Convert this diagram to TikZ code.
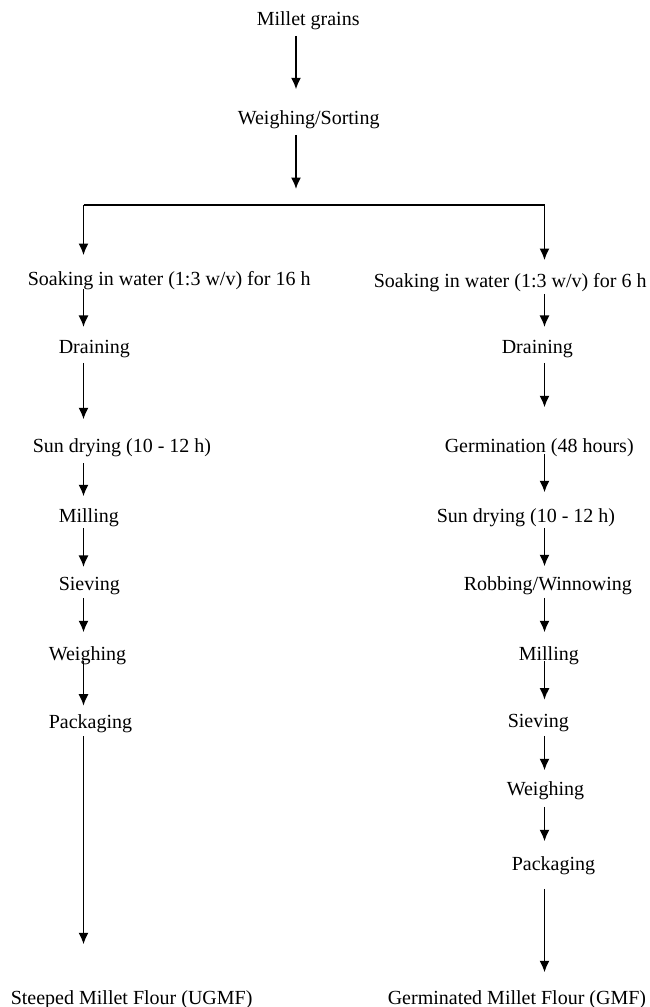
\documentclass[tikz,border=0pt]{standalone}
\usepackage{fontspec}
\setmainfont{Liberation Serif}
\usetikzlibrary{arrows.meta}

\begin{document}
\begin{tikzpicture}[x=1pt, y=-1pt, line width=1.6pt,
	>={Latex[length=11.5pt,width=10pt]},
	stage/.style={anchor=base west, inner sep=0pt, font=\fontsize{20}{24}\selectfont},
	flow/.style={->}]

\useasboundingbox (0,0) rectangle (650,1007);

\coordinate (colM) at (296,0);
\coordinate (colL) at (83.5,0);
\coordinate (colR) at (544.5,0);

% common part
\node[stage] (millet) at (256,25) {Millet grains};
\node[stage] (sort) at (237,124) {Weighing/Sorting};

\coordinate (split) at (296,205);
\coordinate (brL) at (83.5,205);
\coordinate (brR) at (544.5,205);

% left branch : steeped
\node[stage] (soakL) at (27,285) {Soaking in water (1:3 w/v) for 16 h};
\node[stage] (drainL) at (58,353) {Draining};
\node[stage] (sunL) at (32,452) {Sun drying (10 - 12 h)};
\node[stage] (millL) at (58,522) {Milling};
\node[stage] (sieveL) at (58,590) {Sieving};
\node[stage] (weighL) at (48,660) {Weighing};
\node[stage] (packL) at (48,728) {Packaging};
\node[stage] (ugmf) at (10,1004) {Steeped Millet Flour (UGMF)};

% right branch : germinated
\node[stage] (soakR) at (373,287) {Soaking in water (1:3 w/v) for 6 h};
\node[stage] (drainR) at (501,353) {Draining};
\node[stage] (germ) at (444,452) {Germination (48 hours)};
\node[stage] (sunR) at (436,522) {Sun drying (10 - 12 h)};
\node[stage] (robR) at (463,590) {Robbing/Winnowing};
\node[stage] (millR) at (518,660) {Milling};
\node[stage] (sieveR) at (507,727) {Sieving};
\node[stage] (weighR) at (506,795) {Weighing};
\node[stage] (packR) at (511,870) {Packaging};
\node[stage] (gmf) at (387,1004) {Germinated Millet Flour (GMF)};

% arrows, middle
\draw[flow, shorten <=5.7pt, shorten >=20pt] (millet.south -| colM) -- (sort.north -| colM);
\draw[flow, shorten <=5.7pt, shorten >=16pt] (sort.south -| colM) -- (split);
\draw (brL) -- (brR);
\draw[flow, shorten >=15pt] (brL) -- (soakL.north -| colL);
\draw[flow, shorten >=12pt] (brR) -- (soakR.north -| colR);

% arrows, left
\draw[flow, shorten <=-1pt, shorten >=12pt] (soakL.south -| colL) -- (drainL.north -| colL);
\draw[flow, shorten <=4.7pt, shorten >=18pt] (drainL.south -| colL) -- (sunL.north -| colL);
\draw[flow, shorten <=6pt, shorten >=11pt] (sunL.south -| colL) -- (millL.north -| colL);
\draw[flow, shorten <=0.7pt, shorten >=9pt] (millL.south -| colL) -- (sieveL.north -| colL);
\draw[flow, shorten <=2.7pt, shorten >=13pt] (sieveL.south -| colL) -- (weighL.north -| colL);
\draw[flow, shorten <=-4.3pt, shorten >=7.6pt] (weighL.south -| colL) -- (packL.north -| colL);
\draw[flow, shorten <=3pt, shorten >=45pt] (packL.south -| colL) -- (ugmf.north -| colL);

% arrows, right
\draw[flow, shorten <=1.7pt, shorten >=12pt] (soakR.south -| colR) -- (drainR.north -| colR);
\draw[flow, shorten <=4.7pt, shorten >=30pt] (drainR.south -| colR) -- (germ.north -| colR);
\draw[flow, shorten <=-3.3pt, shorten >=15pt] (germ.south -| colR) -- (sunR.north -| colR);
\draw[flow, shorten <=0.7pt, shorten >=9pt] (sunR.south -| colR) -- (robR.north -| colR);
\draw[flow, shorten <=2.7pt, shorten >=13pt] (robR.south -| colR) -- (millR.north -| colR);
\draw[flow, shorten <=-4.3pt, shorten >=13.3pt] (millR.south -| colR) -- (sieveR.north -| colR);
\draw[flow, shorten <=3.7pt, shorten >=10pt] (sieveR.south -| colR) -- (weighR.north -| colR);
\draw[flow, shorten <=6.7pt, shorten >=14pt] (weighR.south -| colR) -- (packR.north -| colR);
\draw[flow, shorten <=13.7pt, shorten >=17pt] (packR.south -| colR) -- (gmf.north -| colR);

\end{tikzpicture}
\end{document}
